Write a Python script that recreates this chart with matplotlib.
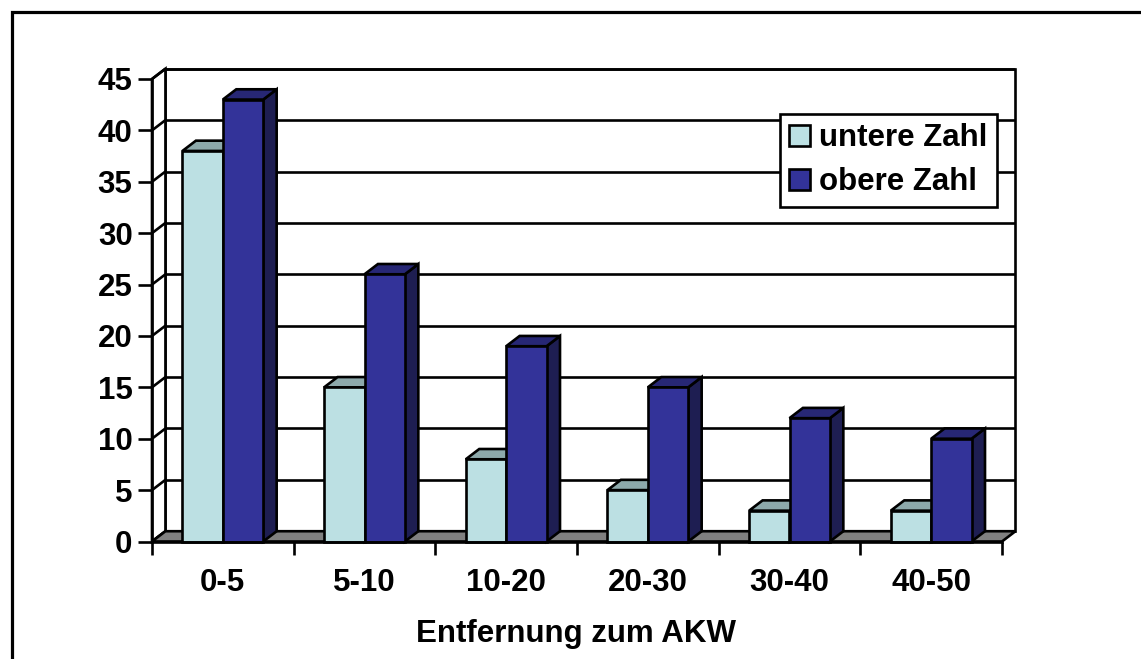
import matplotlib
matplotlib.use("Agg")
import matplotlib.pyplot as plt
from matplotlib.patches import Polygon, Rectangle, Patch

# Data
categories = ["0-5", "5-10", "10-20", "20-30", "30-40", "40-50"]
untere_zahl = [38, 15, 8, 5, 3, 3]
obere_zahl = [43, 26, 19, 15, 12, 10]
series_names = ["untere Zahl", "obere Zahl"]
y_ticks = [0, 5, 10, 15, 20, 25, 30, 35, 40, 45]
x_title = "Entfernung zum AKW"

# Styling
FONT = "Liberation Sans"
FS = 22.5
LW = 1.9
DX, DY = 0.095, 1.0          # pseudo-3D depth offset in data units
BAR_W = 0.285
OFFSETS = [0.215, 0.5]
FACE = [("#BCE0E3", "#8DA9AB", "#6E8A8C"),
        ("#333399", "#272775", "#1E1E52")]

W, H = 1141, 659
fig = plt.figure(figsize=(W / 100, H / 100), dpi=100)
fig.patch.set_facecolor("white")

# Outer chart border (top/left visible)
fig.patches.append(Rectangle((11.5 / W, -0.2), 1.3, 1.2 - 12 / H,
                             transform=fig.transFigure, fill=False,
                             edgecolor="black", linewidth=2.3))

ax = fig.add_axes([152 / W, (H - 541.5) / H, 850 / W, 462.5 / H])
n = len(categories)
ax.set_xlim(0, n)
ax.set_ylim(0, 45)
for s in ax.spines.values():
    s.set_visible(False)
ax.patch.set_visible(False)

kw = dict(clip_on=False, linewidth=LW, edgecolor="black", joinstyle="miter")

# Back wall
ax.add_patch(Rectangle((DX, DY), n, 45, facecolor="white", zorder=1, **kw))
# Side wall
ax.add_patch(Polygon([(0, 0), (0, 45), (DX, 45 + DY), (DX, DY)],
                     closed=True, facecolor="white", zorder=1, **kw))
# Gridlines on back and side walls
for v in y_ticks:
    ax.plot([DX, n + DX], [v + DY, v + DY], color="black", lw=LW,
            clip_on=False, zorder=2, solid_capstyle="butt")
    ax.plot([0, DX], [v, v + DY], color="black", lw=LW,
            clip_on=False, zorder=2, solid_capstyle="butt")
# Floor
ax.add_patch(Polygon([(0, 0), (n, 0), (n + DX, DY), (DX, DY)],
                     closed=True, facecolor="#808080", zorder=3, **kw))

# Bars
z = 4
for i in range(n):
    for s, vals in enumerate([untere_zahl, obere_zahl]):
        v = vals[i]
        x0 = i + OFFSETS[s]
        front, top, side = FACE[s]
        ax.add_patch(Polygon([(x0 + BAR_W, 0), (x0 + BAR_W + DX, DY),
                              (x0 + BAR_W + DX, v + DY), (x0 + BAR_W, v)],
                             closed=True, facecolor=side, zorder=z, **kw))
        ax.add_patch(Polygon([(x0, v), (x0 + BAR_W, v),
                              (x0 + BAR_W + DX, v + DY), (x0 + DX, v + DY)],
                             closed=True, facecolor=top, zorder=z, **kw))
        ax.add_patch(Rectangle((x0, 0), BAR_W, v, facecolor=front,
                               zorder=z, **kw))
        z += 1

# Front axes lines
ax.plot([0, 0], [0, 45], color="black", lw=LW, clip_on=False, zorder=z,
        solid_capstyle="projecting")
ax.plot([0, n], [0, 0], color="black", lw=LW, clip_on=False, zorder=z,
        solid_capstyle="projecting")

# Ticks and labels
ax.set_yticks(y_ticks)
ax.set_yticklabels([str(t) for t in y_ticks], fontsize=FS,
                   fontweight="bold", family=FONT)
ax.tick_params(axis="y", length=10, width=LW, pad=4, color="black")
ax.set_xticks(range(n + 1))
ax.set_xticklabels([""] * (n + 1))
ax.tick_params(axis="x", which="major", length=9, width=LW, color="black")
ax.set_xticks([i + 0.5 for i in range(n)], minor=True)
ax.set_xticklabels(categories, minor=True, fontsize=FS, fontweight="bold",
                   family=FONT)
ax.tick_params(axis="x", which="minor", length=0, pad=19)

fig.text(576 / W, (H - 634) / H, x_title, fontsize=FS, fontweight="bold",
         family=FONT, ha="center", va="center")

# Legend
handles = [Patch(facecolor=FACE[k][0], edgecolor="black", linewidth=LW,
                 label=series_names[k]) for k in range(2)]
leg = ax.legend(handles=handles, loc="upper left",
                bbox_to_anchor=(780 / W, (H - 114) / H),
                bbox_transform=fig.transFigure,
                prop={"family": FONT, "weight": "bold", "size": FS},
                frameon=True, fancybox=False, framealpha=1, edgecolor="black",
                handlelength=0.65, handleheight=0.65, handletextpad=0.3,
                borderpad=0.3, labelspacing=0.45, borderaxespad=0)
leg.get_frame().set_linewidth(LW)
leg.set_zorder(50)

fig.savefig("out.png", dpi=100, facecolor="white")
